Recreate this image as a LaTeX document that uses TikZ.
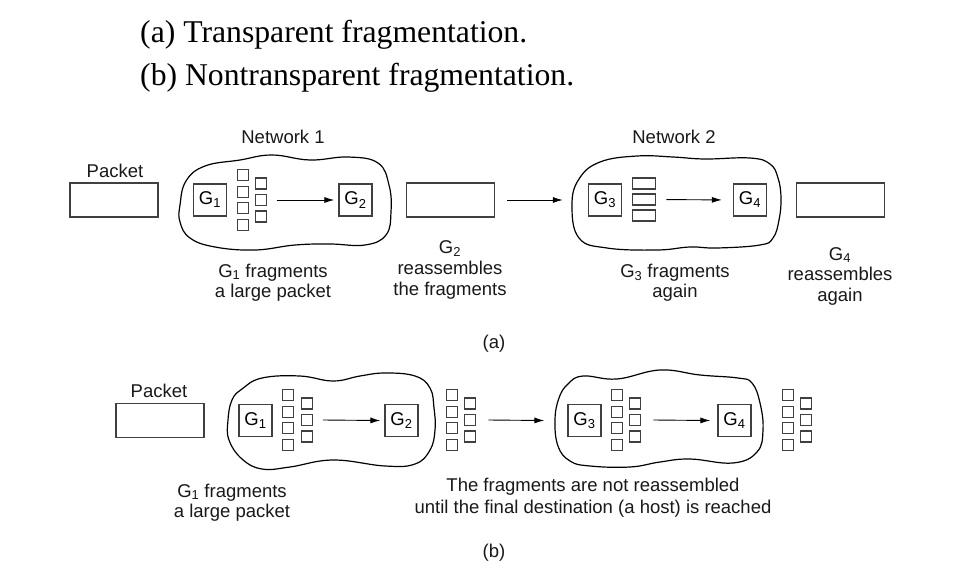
\documentclass[tikz,border=0pt]{standalone}
\usepackage{fontspec}
\setmainfont{Liberation Serif}
\newfontfamily\hv{Liberation Sans}
\usetikzlibrary{arrows.meta}
\tikzset{
 lbl/.style={font=\hv\fontsize{18.5}{21}\selectfont, text=black!90, inner sep=0, anchor=base},
 ttl/.style={font=\fontsize{31.7}{38}\selectfont, inner sep=0, anchor=base west},
 gbox/.style={draw=black!75, line width=1.3pt, minimum width=33, minimum height=32, inner sep=0, font=\hv\fontsize{18.5}{21}\selectfont},
 pkt/.style={draw=black!75, line width=1.3pt, minimum width=88, minimum height=34, inner sep=0},
 sq/.style={draw=black!75, line width=1.3pt, minimum width=11, minimum height=11, inner sep=0},
 wrect/.style={draw=black!75, line width=1.3pt, minimum width=23.5, minimum height=11, inner sep=0},
 cloudline/.style={line width=1.2pt, black},
 arr/.style={line width=0.9pt, -{Latex[length=10pt,width=6pt]}},
 frags/.pic={
  \foreach \i/\yy in {1/-24.75,2/-8.25,3/8.25,4/24.75} \node[sq] (-a\i) at (-9.25,\yy) {};
  \foreach \i/\yy in {1/-16.5,2/0,3/16.5} \node[sq] (-b\i) at (9.25,\yy) {};
 },
}
\begin{document}
\begin{tikzpicture}[x=1pt,y=-1pt]
\fill[white] (0,0) rectangle (961,568);
\useasboundingbox (0,0) rectangle (961,568);

% titles
\node[ttl] (ta) at (140,42) {(a) Transparent fragmentation.};
\node[ttl] (tb) at (140,85) {(b) Nontransparent fragmentation.};

% ---------- (a) ----------
\draw[cloudline] plot[smooth cycle, tension=0.7] coordinates {
 (180,205) (186,181) (205,166) (240,160) (272,155) (310,160) (348,157) (378,163)
 (389,185) (391,212) (386,235) (365,245) (330,244) (295,245) (255,250) (215,247) (190,238) (180,222)};
\draw[cloudline] plot[smooth cycle, tension=0.7] coordinates {
 (572,205) (579,179) (600,162) (637,156) (673,157) (705,159) (750,158) (770,164)
 (778,178) (781,198) (779,220) (773,238) (760,245) (717,248) (690,247) (657,250) (607,248) (579,238)};

\node[pkt] (P1) at (114,200) {};
\node[lbl] (pk1) at (115,177) {Packet};
\node[gbox] (G1a) at (210,200) {G\textsubscript{1}};
\pic (fa) at (252,200) {frags};
\node[gbox] (G2a) at (355.5,200) {G\textsubscript{2}};
\draw[arr] ([xshift=9.5]fa-b2.east) -- ([xshift=-4]G2a.west);
\node[lbl] (net1) at (283,143) {Network 1};
\node[lbl] (g1f) at (273,277) {G\textsubscript{1} fragments};
\node[lbl] (g1l) at (273,297) {a large packet};

\node[pkt] (R2) at (450.5,200) {};
\node[lbl] (r2a) at (450,253) {G\textsubscript{2}};
\node[lbl] (r2b) at (450,274) {reassembles};
\node[lbl] (r2c) at (450,295) {the fragments};

\node[gbox] (G3a) at (605,200) {G\textsubscript{3}};
\draw[arr, shorten <=12pt, shorten >=25pt] (R2.east) -- (G3a.west);
\node[wrect] (w1) at (644,183.5) {};
\node[wrect] (w2) at (644,199.5) {};
\node[wrect] (w3) at (644,215.5) {};
\node[gbox] (G4a) at (750,200) {G\textsubscript{4}};
\draw[arr, shorten <=10pt, shorten >=11pt] (w2.east) -- (G4a.west);
\node[lbl] (net2) at (674,143) {Network 2};
\node[lbl] (g3f) at (675,277) {G\textsubscript{3} fragments};
\node[lbl] (g3l) at (675,297) {again};

\node[pkt] (R3) at (840.5,200) {};
\node[lbl] (r3a) at (840,260) {G\textsubscript{4}};
\node[lbl] (r3b) at (840,280) {reassembles};
\node[lbl] (r3c) at (840,301) {again};

\node[lbl] (capa) at (494,348) {(a)};

% ---------- (b) ----------
\draw[cloudline] plot[smooth cycle, tension=0.7] coordinates {
 (228,420) (232,400) (242,389) (262,378) (300,376) (333,381) (360,376) (385,373) (415,376)
 (430,388) (434,408) (435,430) (430,450) (415,464) (385,466) (333,460) (290,467) (262,469) (242,459) (229,440)};
\draw[cloudline] plot[smooth cycle, tension=0.7] coordinates {
 (555,420) (559,398) (568,384) (583,376) (617,379) (660,370) (700,375) (738,378) (752,383)
 (760,403) (763,430) (757,452) (733,463) (690,459) (660,462) (630,467) (590,466) (570,461) (558,446)};

\node[pkt] (P2) at (160,420.5) {};
\node[lbl] (pk2) at (159,397) {Packet};
\node[gbox] (G1b) at (255.5,420.5) {G\textsubscript{1}};
\pic (fb1) at (297.5,420) {frags};
\node[gbox] (G2b) at (401.5,420.5) {G\textsubscript{2}};
\draw[arr] ([xshift=10]fb1-b2.east) -- ([xshift=-4]G2b.west);
\pic (fb2) at (461,420) {frags};
\node[gbox] (G3b) at (584.5,420.5) {G\textsubscript{3}};
\draw[arr] ([xshift=12]fb2-b2.east) -- ([xshift=-23]G3b.west);
\pic (fb3) at (626,420) {frags};
\node[gbox] (G4b) at (734.5,420.5) {G\textsubscript{4}};
\draw[arr] ([xshift=12]fb3-b2.east) -- ([xshift=-7]G4b.west);
\pic (fb4) at (797,420) {frags};

\node[lbl] (g1fb) at (232,497) {G\textsubscript{1} fragments};
\node[lbl] (g1lb) at (232,517) {a large packet};
\node[lbl] (nr1) at (593,491) {The fragments are not reassembled};
\node[lbl] (nr2) at (593,513) {until the final destination (a host) is reached};
\node[lbl] (capb) at (494,557) {(b)};
\end{tikzpicture}
\end{document}
